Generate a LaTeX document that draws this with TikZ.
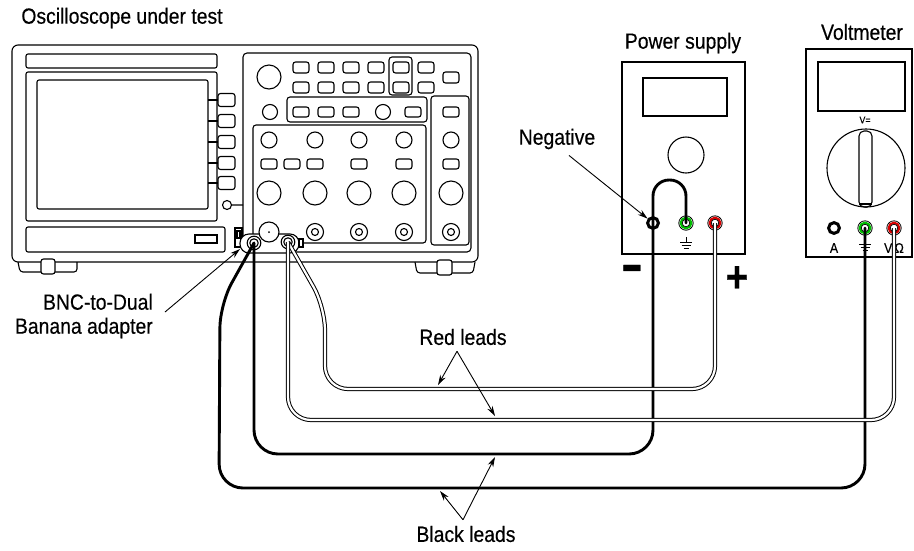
\documentclass[tikz,border=0pt]{standalone}
\usepackage{fontspec}
\setmainfont[FakeStretch=0.88,FakeBold=0.4]{Liberation Sans}
\usetikzlibrary{arrows.meta}

\newcommand{\jack}[2]{% banana jack with coloured ring
  \draw[line width=0.8pt, fill=white] (#1) circle (7.2);
  \draw[#2, line width=2.2pt] (#1) circle (5.3);
  \draw[line width=0.7pt] (#1) circle (3.8);}
\newcommand{\blackjack}[1]{\draw[line width=3pt, fill=white] (#1) circle (5.4);}
\newcommand{\gnd}[1]{\draw[line width=0.9pt] (#1) ++(0,-5) -- ++(0,5)
  ++(-6,0) -- ++(12,0) ++(-10.5,3) -- ++(9,0) ++(-7,3) -- ++(5,0);}

\tikzset{
  outline/.style={line width=1.1pt},
  btn/.style={outline, rounded corners=2.5pt},
  label/.style={font=\fontsize{22}{24}\selectfont, inner sep=0pt},
  blacklead/.style={line width=2.9pt, line cap=round, rounded corners=24pt},
  redlead/.style={line width=1pt, double=white, double distance=2.2pt, rounded corners=23pt},
  pointer/.style={-{Stealth[length=10pt,width=6pt]}, line width=0.9pt},
}

\begin{document}
\begin{tikzpicture}[x=1pt,y=-1pt]
  \useasboundingbox (0,0) rectangle (914,550);

  % oscilloscope body, display side
  \node[label] (scope) at (122,18) {Oscilloscope under test};
  \draw[outline, rounded corners=6pt] (12,45) rectangle (478,262);
  \draw[outline, rounded corners=2pt] (26,54) rectangle (217,68);
  \draw[outline, rounded corners=2pt] (26,72) rectangle (217,221);
  \draw[outline, rounded corners=2pt] (37,80) rectangle (208,209);
  \foreach \y in {100,121,142,163,183}{% menu buttons
    \draw[outline] (208,\y) -- (218,\y);
    \draw[btn] (218,\y-6.5) rectangle (235,\y+6.5);}
  \draw[outline] (227,205) circle (4.5) (231.5,205) -- (243,205);
  \draw[outline, rounded corners=2pt] (26,227) rectangle (225,252);
  \draw[outline] (195,235) rectangle (217,243);
  \draw[outline] (235,228) rectangle (242,247);
  \draw[outline] (237,231) rectangle (240,238);
  % feet
  \draw[outline, rounded corners=3pt] (18,262) -- (20,272) -- (77,272) -- (77,262);
  \draw[btn, fill=white] (41,259) rectangle (55,274);
  \draw[outline, rounded corners=3pt] (415,262) -- (417,273) -- (473,273) -- (475,262);
  \draw[btn, fill=white] (437,260) rectangle (452,275);

  % front panel
  \draw[outline, rounded corners=4pt] (243,53) rectangle (471,252);
  \draw[outline] (269,77) circle (12);
  \foreach \x in {301,326,351,376,401,426}{
    \draw[btn] (\x-8,62) rectangle (\x+8,73);
    \draw[btn] (\x-8,82) rectangle (\x+8,93);}
  \draw[btn] (443,72) rectangle (459,83);
  \draw[outline, rounded corners=3pt] (389,57) rectangle (412,95);
  \draw[outline] (270,112) circle (7.5);
  \draw[outline, rounded corners=3pt] (287,97) rectangle (427,122);
  \foreach \x in {301,326,351,413}
    \draw[btn] (\x-8,107) rectangle (\x+8,117);
  \draw[outline] (383,112) circle (7.5);
  % trigger column
  \draw[outline, rounded corners=3pt] (431,96) rectangle (469,245);
  \draw[btn] (443,107) rectangle (459,117);
  \draw[outline] (451,140) circle (8);
  \draw[btn] (443,159) rectangle (459,169);
  \draw[outline] (451,193) circle (12);
  \draw[outline] (451,232) circle (8.5) (451,232) circle (3.5);
  % vertical channels
  \draw[outline, rounded corners=3pt] (253,125) rectangle (426,243);
  \foreach \x in {269,315,359,404}{
    \draw[outline] (\x,140) circle (8);
    \draw[btn] (\x-8,159) rectangle (\x+8,169);
    \draw[outline] (\x,193) circle (12);}
  \draw[btn] (284,159) rectangle (300,169);
  \foreach \x in {315,359,404}
    \draw[outline] (\x,232) circle (8.5) (\x,232) circle (3.5);

  % BNC-to-dual banana adapter
  \draw[outline, fill=white, rounded corners=9pt] (240,234) rectangle (299,253);
  \draw[outline, fill=white] (299,239) rectangle (303,247);
  \draw[outline, fill=white] (269,232) circle (10);
  \fill (269,232) circle (1);
  \coordinate (adpL) at (254,243);
  \coordinate (adpR) at (288,242);
  \draw[outline] (adpL) circle (6.8) (adpL) circle (4.2);
  \draw[outline] (adpR) circle (6.8) (adpR) circle (4.2);
  \coordinate (adptip) at (240,249);
  \node[label, align=right, anchor=east] (adplabel) at (153,316) {BNC-to-Dual\\Banana adapter};
  \draw[pointer] (adplabel.east) ++(12,-4) -- (adptip);

  % power supply
  \node[label] (ps) at (683,43) {Power supply};
  \draw[outline] (622,62) rectangle (745,254);
  \draw[outline] (643,78) rectangle (727,116);
  \draw[outline] (686,155) circle (18);
  \coordinate (psneg) at (653,223);
  \coordinate (psgnd) at (686,223);
  \coordinate (pspos) at (715,223);
  \blackjack{psneg}
  \jack{psgnd}{green!75!black}
  \jack{pspos}{red!85!black}
  \gnd{686,242}
  \node[font=\fontsize{44}{44}\selectfont\bfseries, inner sep=0pt] (minus) at (632,273) {\scalebox{1.7}[1.15]{-}};
  \node[font=\fontsize{44}{44}\selectfont\bfseries, inner sep=0pt] (plus) at (737,279) {+};
  \node[label] (neglabel) at (557,139) {Negative};
  \draw[pointer, shorten >=7pt] (neglabel.south) ++(12,6) -- (psneg);

  % voltmeter
  \node[label] (vm) at (862,32) {Voltmeter};
  \draw[outline] (806,49) rectangle (912,257);
  \draw[outline] (818,62) rectangle (905,111);
  \node[font=\fontsize{10}{10}\selectfont, inner sep=0pt] (vsel) at (865,120) {V=};
  \draw[outline] (866,168) circle (39);
  \draw[outline, rounded corners=5pt] (859,131) rectangle (872,207);
  \draw[outline] (859,204) -- (872,204);
  \coordinate (vmA) at (834,228);
  \coordinate (vmgnd) at (865,228);
  \coordinate (vmV) at (894,228);
  \blackjack{vmA}
  \jack{vmgnd}{green!75!black}
  \jack{vmV}{red!85!black}
  \node[font=\fontsize{14}{14}\selectfont, inner sep=0pt] (alabel) at (834,248) {A};
  \node[font=\fontsize{14}{14}\selectfont, inner sep=0pt] (vlabel) at (894,248) {V\,Ω};
  \gnd{865,244}

  % black leads
  \draw[blacklead] (adpL) -- (254,454) -- (653,454) -- (653,300)
    [rounded corners=16pt] -- (653,180) -- (686,180) -- (psgnd);
  \draw[blacklead] (adpL) -- (220,304) -- (219,488) -- (865,488) -- (vmgnd);
  % red leads
  \draw[redlead] (adpR) -- (325,307) -- (325,389) -- (715,389) -- (pspos);
  \draw[redlead] (adpR) -- (288,420) -- (894,420) -- (vmV);

  % lead labels
  \node[label] (redlabel) at (463,337) {Red leads};
  \coordinate (redtipA) at (438,385);
  \coordinate (redtipB) at (495,416);
  \draw[pointer] (redlabel.south) ++(-6,6) -- (redtipA);
  \draw[pointer] (redlabel.south) ++(-6,6) -- (redtipB);
  \node[label] (blklabel) at (466,534) {Black leads};
  \coordinate (blktipA) at (440,491);
  \coordinate (blktipB) at (495,457);
  \draw[pointer] (blklabel.north) ++(-3,-6) -- (blktipA);
  \draw[pointer] (blklabel.north) ++(-3,-6) -- (blktipB);
\end{tikzpicture}
\end{document}
